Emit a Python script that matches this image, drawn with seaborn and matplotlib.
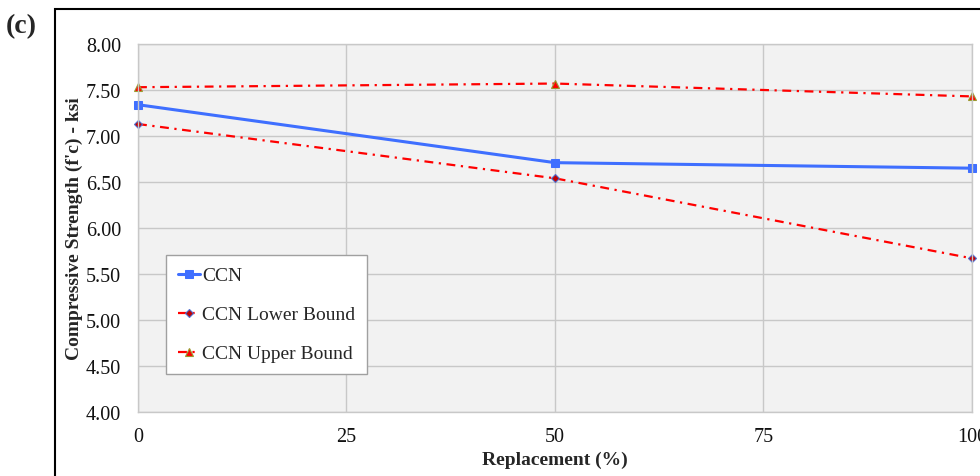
import pandas as pd
import seaborn as sns
import matplotlib.pyplot as plt
from matplotlib.patches import Rectangle

# Data
replacement = [0, 50, 100]
ccn = [7.34, 6.71, 6.65]
ccn_lower = [7.13, 6.54, 5.67]
ccn_upper = [7.53, 7.57, 7.43]

x_ticks = [0, 25, 50, 75, 100]
y_ticks = [4.00, 4.50, 5.00, 5.50, 6.00, 6.50, 7.00, 7.50, 8.00]

sns.set_style("white")
plt.rcParams['font.family'] = ['Liberation Serif', 'DejaVu Serif']

fig = plt.figure(figsize=(9.8, 4.77), dpi=100)
ax = fig.add_axes([0.1408, 0.1342, 0.8510, 0.7715])

df = pd.DataFrame({'x': replacement, 'ccn': ccn, 'lower': ccn_lower, 'upper': ccn_upper})

dashdot = (0, (4, 2.5, 1, 2.5))
sns.lineplot(data=df, x='x', y='ccn', ax=ax, color='#3F6FFF', lw=2.2, marker='s',
             markersize=6, markeredgecolor='#3F6FFF', label='CCN', clip_on=False)
sns.lineplot(data=df, x='x', y='lower', ax=ax, color='#FF0000', lw=1.6, linestyle=dashdot,
             marker='D', markersize=4.5, markerfacecolor='#C00000', markeredgecolor='#4F6FD0',
             markeredgewidth=0.8, label='CCN Lower Bound', clip_on=False)
sns.lineplot(data=df, x='x', y='upper', ax=ax, color='#FF0000', lw=1.6, linestyle=dashdot,
             marker='^', markersize=6, markerfacecolor='#FF0000', markeredgecolor='#9A9A30',
             markeredgewidth=0.8, label='CCN Upper Bound', clip_on=False)

ax.set_facecolor('#F2F2F2')
ax.set_xlim(0, 100)
ax.set_ylim(4, 8)
ax.set_xticks(x_ticks)
ax.set_yticks(y_ticks)
ax.set_yticklabels([f'{v:.2f}' for v in y_ticks])
ax.grid(True, color='#C8C8C8', lw=1)
for s in ax.spines.values():
    s.set_color('#C8C8C8')
    s.set_linewidth(1)
ax.tick_params(axis='both', length=0, labelsize=14.5, labelcolor='#111111')
ax.tick_params(axis='x', pad=11)
ax.tick_params(axis='y', pad=12)

ax.set_xlabel('Replacement (%)', fontsize=14, fontweight='bold', labelpad=3)
ax.set_ylabel("Compressive Strength (f'c) - ksi", fontsize=14, fontweight='bold', labelpad=2)

leg = ax.legend(loc='lower left', bbox_to_anchor=(0.034, 0.103), fontsize=14,
                frameon=True, fancybox=False, edgecolor='#A0A0A0', facecolor='white',
                framealpha=1, handlelength=1.15, handletextpad=0.1, labelspacing=1.1,
                borderpad=0.6, borderaxespad=0)
leg.get_frame().set_linewidth(1)

# outer panel frame and panel letter
fig.patches.append(Rectangle((0.0561, -0.1), 1.1, 0.1 + 0.979, transform=fig.transFigure,
                             fill=False, edgecolor='black', lw=1.5))
fig.text(0.006, 0.945, '(c)', fontsize=20, fontweight='bold', va='center', ha='left')

fig.savefig('out.png', dpi=100)
